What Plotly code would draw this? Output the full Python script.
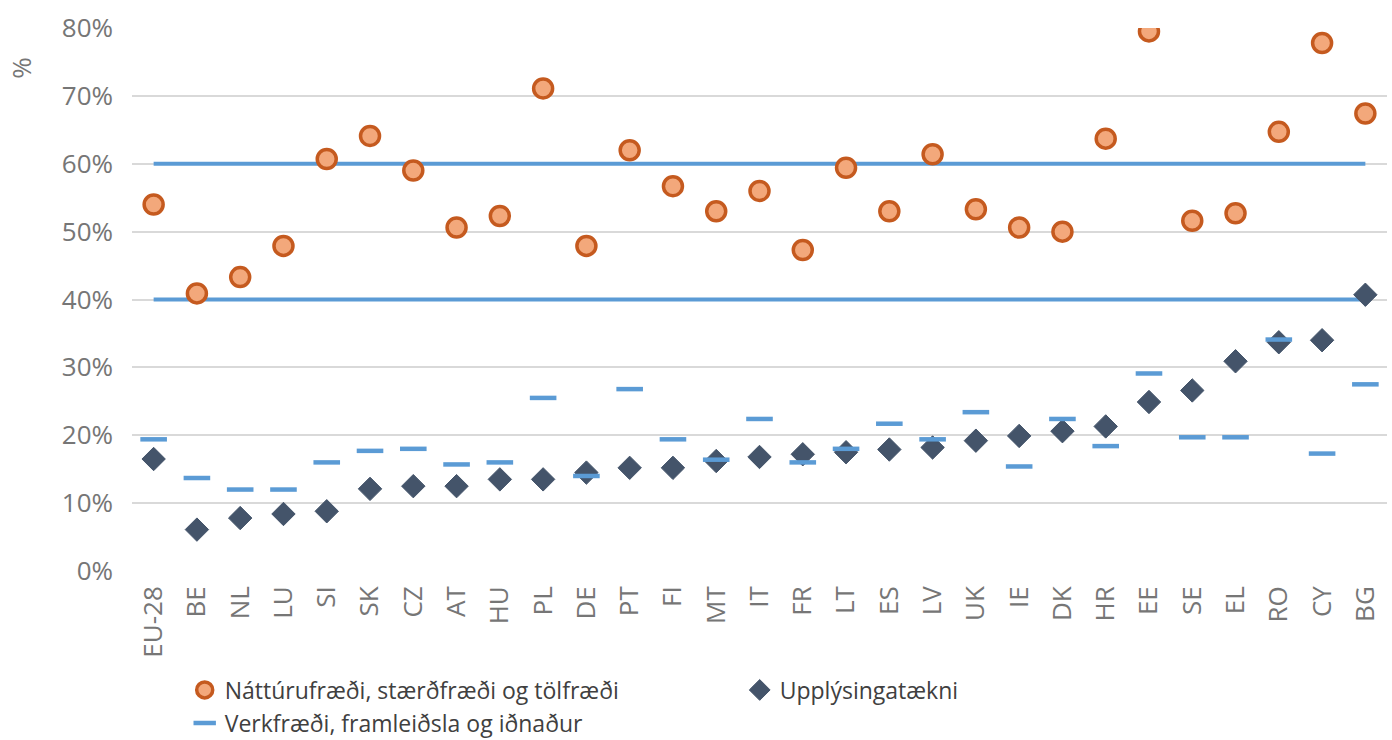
import plotly.graph_objects as go

# Countries (x-axis categories)
countries = ["EU-28", "BE", "NL", "LU", "SI", "SK", "CZ", "AT", "HU", "PL",
             "DE", "PT", "FI", "MT", "IT", "FR", "LT", "ES", "LV", "UK",
             "IE", "DK", "HR", "EE", "SE", "EL", "RO", "CY", "BG"]

# Share of women among graduates, %
natturufraedi = [54.0, 40.9, 43.3, 47.9, 60.7, 64.1, 59.0, 50.6, 52.3, 71.1,
                 47.9, 62.0, 56.7, 53.0, 56.0, 47.3, 59.4, 53.0, 61.4, 53.3,
                 50.6, 50.0, 63.7, 79.5, 51.6, 52.7, 64.7, 77.8, 67.4]
upplysingataekni = [16.5, 6.1, 7.8, 8.4, 8.8, 12.1, 12.5, 12.5, 13.5, 13.5,
                    14.5, 15.2, 15.2, 16.2, 16.8, 17.2, 17.5, 17.9, 18.2, 19.2,
                    19.9, 20.6, 21.3, 24.9, 26.6, 30.9, 33.7, 34.0, 40.7]
verkfraedi = [19.4, 13.7, 12.0, 12.0, 16.0, 17.7, 18.0, 15.7, 16.0, 25.5,
              14.0, 26.8, 19.4, 16.4, 22.4, 16.0, 18.0, 21.7, 19.4, 23.4,
              15.4, 22.4, 18.4, 29.1, 19.7, 19.7, 34.1, 17.3, 27.5]

# Reference band limits, %
band_lower = 40
band_upper = 60

y_ticks = [0, 10, 20, 30, 40, 50, 60, 70, 80]
y_tick_labels = [f"{v}%" for v in y_ticks]

FONT = "Open Sans"
TICK_GREY = "#767676"
LEGEND_TEXT = "#404040"
BLUE = "#5B9BD5"

fig = go.Figure()

for level in (band_lower, band_upper):
    fig.add_trace(go.Scatter(
        x=countries, y=[level] * len(countries),
        mode="lines",
        line=dict(color=BLUE, width=4),
        showlegend=False, hoverinfo="skip",
    ))

fig.add_trace(go.Scatter(
    x=countries, y=natturufraedi,
    mode="markers",
    name="Náttúrufræði, stærðfræði og tölfræði",
    legend="legend",
    marker=dict(symbol="circle", size=19, color="#F3A87B",
                line=dict(color="#C55A1F", width=3.5)),
))

fig.add_trace(go.Scatter(
    x=countries, y=upplysingataekni,
    mode="markers",
    name="Upplýsingatækni",
    legend="legend",
    marker=dict(symbol="diamond", size=18, color="#44546A",
                line=dict(color="#44546A", width=1)),
))

fig.add_trace(go.Scatter(
    x=countries, y=verkfraedi,
    mode="markers",
    name="Verkfræði, framleiðsla og iðnaður",
    legend="legend2",
    marker=dict(symbol="line-ew", size=19, color=BLUE,
                line=dict(color=BLUE, width=4.5)),
))

legend_common = dict(
    orientation="h", xref="paper", x=0.042, xanchor="left",
    yref="container", yanchor="middle",
    entrywidth=510, entrywidthmode="pixels",
    font=dict(size=23, color=LEGEND_TEXT, family=FONT),
    bgcolor="rgba(0,0,0,0)", itemclick=False,
)

fig.update_layout(
    width=1392, height=740,
    margin=dict(l=132, r=5, t=28, b=169, autoexpand=False),
    plot_bgcolor="white", paper_bgcolor="white",
    font=dict(family=FONT, color=TICK_GREY),
    xaxis=dict(
        type="category", range=[-0.5, len(countries) - 0.5],
        tickangle=-90, tickfont=dict(size=26, color=TICK_GREY, family=FONT),
        showgrid=False, showline=False, zeroline=False, ticks="",
        ticklabelstandoff=9,
    ),
    yaxis=dict(
        range=[0, 80], tickvals=y_ticks, ticktext=y_tick_labels,
        tickfont=dict(size=26, color=TICK_GREY, family=FONT),
        showgrid=True, gridcolor="#D9D9D9", gridwidth=1.5,
        zeroline=False, showline=False, ticks="",
        ticklabelstandoff=18,
    ),
    legend=dict(legend_common, y=1 - 690 / 740),
    legend2=dict(legend_common, y=1 - 723 / 740),
    annotations=[dict(
        text="%", xref="paper", yref="paper", x=-0.088, y=0.926,
        xanchor="center", yanchor="middle",
        showarrow=False, textangle=-90,
        font=dict(size=26, color=TICK_GREY, family=FONT),
    )],
)

fig.write_html("out.html")
